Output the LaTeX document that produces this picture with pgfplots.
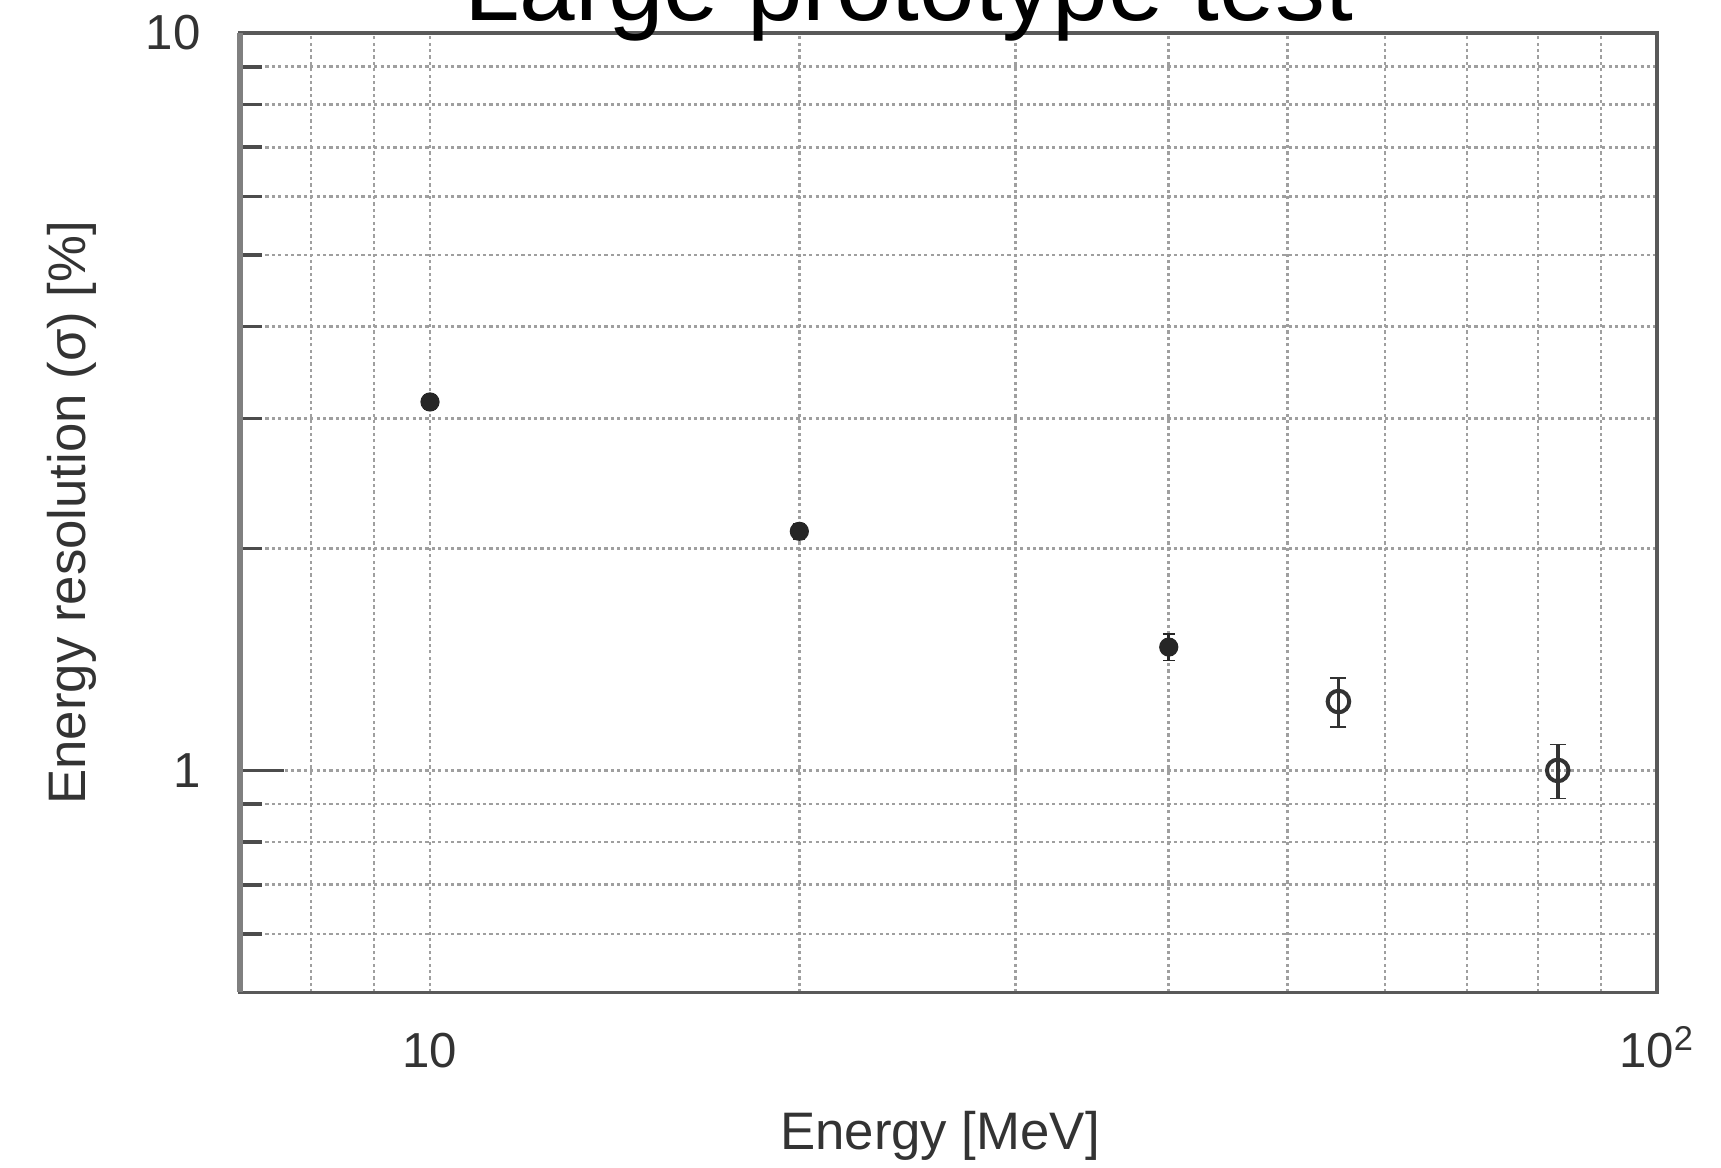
\documentclass[border=0pt]{standalone}
\usepackage{fontspec}
\setmainfont{Liberation Sans}
\usepackage{pgfplots}
\pgfplotsset{compat=1.18}

\begin{document}
\begin{tikzpicture}
\begin{loglogaxis}[
  scale only axis,
  width=354.5pt, height=240pt,
  xmin=7, xmax=100, ymin=0.5, ymax=10,
  xtick={10,100}, xticklabels={10,{10\textsuperscript{2}}},
  minor xtick={8,9,20,30,40,50,60,70,80,90},
  ytick={1,10}, yticklabels={1,10},
  minor ytick={0.6,0.7,0.8,0.9,2,3,4,5,6,7,8,9},
  /pgf/number format/assume math mode=true,
  grid=both,
  major grid style={gray!75, line width=0.65pt, dash pattern=on 0.8pt off 0.8pt},
  minor grid style={gray!75, line width=0.65pt, dash pattern=on 0.8pt off 0.8pt},
  axis line style={black!65, line width=0.9pt},
  ytick pos=left, tick align=inside,
  major tick length=11pt, minor tick length=5.5pt,
  y tick style={black!70, line width=0.9pt},
  x tick style={draw=none},
  minor x tick style={draw=none},
  tick label style={font=\fontsize{12.3}{14}\selectfont, text=black!80},
  xticklabel style={anchor=base, yshift=-18.8pt},
  yticklabel style={xshift=-6.3pt},
  xlabel={Energy [MeV]},
  ylabel={Energy resolution (σ) [\%]},
  label style={font=\fontsize{13.2}{16}\selectfont, text=black!80},
  xlabel style={at={(axis description cs:0.494,-0.15)}, anchor=center},
  ylabel style={at={(axis description cs:-0.1185,0.5)}, anchor=center},
]
\coordinate (tl) at (rel axis cs:0,1);
\coordinate (bl) at (rel axis cs:0,0);
\coordinate (br) at (rel axis cs:1,0);
\coordinate (tt) at (rel axis cs:0.5,1);
\addplot[only marks, mark=*, mark size=2.2pt, black!85,
  error bars/.cd, y dir=both, y explicit,
  error bar style={black!85, line width=0.8pt},
  error mark options={rotate=90, mark size=1.5pt, black!85}]
  coordinates {
    (10, 3.16) +- (0, 0.07)
    (20, 2.11) +- (0, 0.05)
    (40, 1.47) +- (0, 0.06)
  };
\addplot[only marks, mark=o, mark size=2.7pt, gray!40!black,
  mark options={line width=1pt},
  error bars/.cd, y dir=both, y explicit,
  error bar style={gray!40!black, line width=0.9pt},
  error mark options={rotate=90, mark size=2pt, gray!40!black}]
  coordinates {
    (55, 1.24) +- (0, 0.094)
    (83, 1.00) +- (0, 0.084)
  };
\end{loglogaxis}
\draw[black!50, line width=1.6pt] (tl) -- (bl);
\node[anchor=base, font=\fontsize{25}{30}\selectfont] at ([xshift=-10pt, yshift=3pt]tt) {Large prototype test};
\pgfresetboundingbox
\useasboundingbox ([xshift=-60pt, yshift=8.25pt]tl) rectangle ([xshift=16pt, yshift=-43.75pt]br);
\end{tikzpicture}
\end{document}
